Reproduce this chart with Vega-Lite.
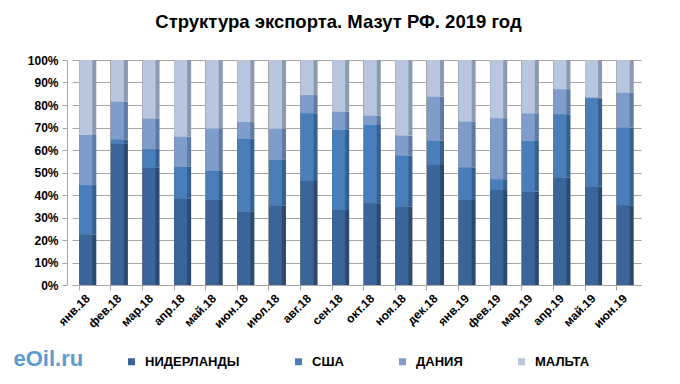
{
  "$schema": "https://vega.github.io/schema/vega-lite/v6.json",
  "width": 569,
  "height": 225,
  "autosize": "none",
  "padding": {"left": 72, "top": 60, "right": 39, "bottom": 99},
  "background": "#ffffff",
  "title": {
    "text": "Структура экспорта. Мазут РФ. 2019 год",
    "font": "Liberation Sans",
    "fontSize": 18.5,
    "fontWeight": "bold",
    "color": "#000000",
    "anchor": "middle",
    "dx": -18,
    "offset": 23
  },
  "config": {
    "view": {"stroke": null},
    "font": "Liberation Sans"
  },
  "data": {
    "values": [
      {"m": "янв.18", "c": "НИДЕРЛАНДЫ", "k": 1, "v": 22.5}, {"m": "янв.18", "c": "США", "k": 2, "v": 21.9}, {"m": "янв.18", "c": "ДАНИЯ", "k": 3, "v": 22.3}, {"m": "янв.18", "c": "МАЛЬТА", "k": 4, "v": 33.3},
      {"m": "фев.18", "c": "НИДЕРЛАНДЫ", "k": 1, "v": 62.7}, {"m": "фев.18", "c": "США", "k": 2, "v": 2.0}, {"m": "фев.18", "c": "ДАНИЯ", "k": 3, "v": 16.8}, {"m": "фев.18", "c": "МАЛЬТА", "k": 4, "v": 18.5},
      {"m": "мар.18", "c": "НИДЕРЛАНДЫ", "k": 1, "v": 52.1}, {"m": "мар.18", "c": "США", "k": 2, "v": 8.3}, {"m": "мар.18", "c": "ДАНИЯ", "k": 3, "v": 13.6}, {"m": "мар.18", "c": "МАЛЬТА", "k": 4, "v": 26.0},
      {"m": "апр.18", "c": "НИДЕРЛАНДЫ", "k": 1, "v": 38.4}, {"m": "апр.18", "c": "США", "k": 2, "v": 14.2}, {"m": "апр.18", "c": "ДАНИЯ", "k": 3, "v": 13.3}, {"m": "апр.18", "c": "МАЛЬТА", "k": 4, "v": 34.1},
      {"m": "май.18", "c": "НИДЕРЛАНДЫ", "k": 1, "v": 37.8}, {"m": "май.18", "c": "США", "k": 2, "v": 12.9}, {"m": "май.18", "c": "ДАНИЯ", "k": 3, "v": 18.9}, {"m": "май.18", "c": "МАЛЬТА", "k": 4, "v": 30.4},
      {"m": "июн.18", "c": "НИДЕРЛАНДЫ", "k": 1, "v": 32.6}, {"m": "июн.18", "c": "США", "k": 2, "v": 32.4}, {"m": "июн.18", "c": "ДАНИЯ", "k": 3, "v": 7.4}, {"m": "июн.18", "c": "МАЛЬТА", "k": 4, "v": 27.6},
      {"m": "июл.18", "c": "НИДЕРЛАНДЫ", "k": 1, "v": 35.3}, {"m": "июл.18", "c": "США", "k": 2, "v": 20.3}, {"m": "июл.18", "c": "ДАНИЯ", "k": 3, "v": 13.9}, {"m": "июл.18", "c": "МАЛЬТА", "k": 4, "v": 30.5},
      {"m": "авг.18", "c": "НИДЕРЛАНДЫ", "k": 1, "v": 46.2}, {"m": "авг.18", "c": "США", "k": 2, "v": 30.1}, {"m": "авг.18", "c": "ДАНИЯ", "k": 3, "v": 8.1}, {"m": "авг.18", "c": "МАЛЬТА", "k": 4, "v": 15.6},
      {"m": "сен.18", "c": "НИДЕРЛАНДЫ", "k": 1, "v": 33.3}, {"m": "сен.18", "c": "США", "k": 2, "v": 35.6}, {"m": "сен.18", "c": "ДАНИЯ", "k": 3, "v": 8.1}, {"m": "сен.18", "c": "МАЛЬТА", "k": 4, "v": 23.0},
      {"m": "окт.18", "c": "НИДЕРЛАНДЫ", "k": 1, "v": 36.3}, {"m": "окт.18", "c": "США", "k": 2, "v": 34.8}, {"m": "окт.18", "c": "ДАНИЯ", "k": 3, "v": 4.2}, {"m": "окт.18", "c": "МАЛЬТА", "k": 4, "v": 24.7},
      {"m": "ноя.18", "c": "НИДЕРЛАНДЫ", "k": 1, "v": 34.8}, {"m": "ноя.18", "c": "США", "k": 2, "v": 22.8}, {"m": "ноя.18", "c": "ДАНИЯ", "k": 3, "v": 8.8}, {"m": "ноя.18", "c": "МАЛЬТА", "k": 4, "v": 33.6},
      {"m": "дек.18", "c": "НИДЕРЛАНДЫ", "k": 1, "v": 53.3}, {"m": "дек.18", "c": "США", "k": 2, "v": 10.8}, {"m": "дек.18", "c": "ДАНИЯ", "k": 3, "v": 19.6}, {"m": "дек.18", "c": "МАЛЬТА", "k": 4, "v": 16.3},
      {"m": "янв.19", "c": "НИДЕРЛАНДЫ", "k": 1, "v": 37.8}, {"m": "янв.19", "c": "США", "k": 2, "v": 14.5}, {"m": "янв.19", "c": "ДАНИЯ", "k": 3, "v": 20.3}, {"m": "янв.19", "c": "МАЛЬТА", "k": 4, "v": 27.4},
      {"m": "фев.19", "c": "НИДЕРЛАНДЫ", "k": 1, "v": 42.2}, {"m": "фев.19", "c": "США", "k": 2, "v": 4.8}, {"m": "фев.19", "c": "ДАНИЯ", "k": 3, "v": 27.1}, {"m": "фев.19", "c": "МАЛЬТА", "k": 4, "v": 25.9},
      {"m": "мар.19", "c": "НИДЕРЛАНДЫ", "k": 1, "v": 41.5}, {"m": "мар.19", "c": "США", "k": 2, "v": 22.5}, {"m": "мар.19", "c": "ДАНИЯ", "k": 3, "v": 12.3}, {"m": "мар.19", "c": "МАЛЬТА", "k": 4, "v": 23.7},
      {"m": "апр.19", "c": "НИДЕРЛАНДЫ", "k": 1, "v": 47.7}, {"m": "апр.19", "c": "США", "k": 2, "v": 28.2}, {"m": "апр.19", "c": "ДАНИЯ", "k": 3, "v": 11.1}, {"m": "апр.19", "c": "МАЛЬТА", "k": 4, "v": 13.0},
      {"m": "май.19", "c": "НИДЕРЛАНДЫ", "k": 1, "v": 43.7}, {"m": "май.19", "c": "США", "k": 2, "v": 39.3}, {"m": "май.19", "c": "ДАНИЯ", "k": 3, "v": 0.4}, {"m": "май.19", "c": "МАЛЬТА", "k": 4, "v": 16.6},
      {"m": "июн.19", "c": "НИДЕРЛАНДЫ", "k": 1, "v": 35.4}, {"m": "июн.19", "c": "США", "k": 2, "v": 34.6}, {"m": "июн.19", "c": "ДАНИЯ", "k": 3, "v": 15.5}, {"m": "июн.19", "c": "МАЛЬТА", "k": 4, "v": 14.5}
    ]
  },
  "encoding": {
    "x": {
      "field": "m",
      "type": "nominal",
      "sort": ["янв.18", "фев.18", "мар.18", "апр.18", "май.18", "июн.18", "июл.18", "авг.18", "сен.18", "окт.18", "ноя.18", "дек.18", "янв.19", "фев.19", "мар.19", "апр.19", "май.19", "июн.19"],
      "scale": {"paddingInner": 0.46, "paddingOuter": 0.23},
      "axis": {
        "title": "eOil.ru",
        "titleFont": "Liberation Sans",
        "titleFontSize": 22,
        "titleFontWeight": "bold",
        "titleColor": "#5B9BD5",
        "titleX": -59,
        "titleY": 80,
        "titleAlign": "left",
        "titleBaseline": "alphabetic",
        "labelAngle": -45,
        "labelAlign": "right",
        "labelBaseline": "middle",
        "labelFont": "Liberation Sans",
        "labelFontSize": 12,
        "labelFontWeight": "bold",
        "labelColor": "#000000",
        "labelPadding": 6,
        "labelOverlap": false,
        "bandPosition": 0,
        "grid": true,
        "gridColor": "#a6a6a6",
        "domainColor": "#a6a6a6",
        "tickColor": "#a6a6a6",
        "tickSize": 5
      }
    },
    "y": {
      "field": "v",
      "type": "quantitative",
      "stack": "normalize",
      "scale": {"domain": [0, 1]},
      "axis": {
        "title": null,
        "format": ".0%",
        "values": [0, 0.1, 0.2, 0.3, 0.4, 0.5, 0.6, 0.7, 0.8, 0.9, 1],
        "labelOverlap": false,
        "offset": 5,
        "labelFont": "Liberation Sans",
        "labelFontSize": 12,
        "labelFontWeight": "bold",
        "labelColor": "#000000",
        "labelPadding": 4,
        "gridColor": "#a6a6a6",
        "domainColor": "#a6a6a6",
        "tickColor": "#a6a6a6",
        "tickSize": 5
      }
    },
    "order": {"field": "k", "type": "quantitative"}
  },
  "layer": [
    {
      "mark": {"type": "bar", "width": 17},
      "encoding": {
        "color": {
          "field": "c",
          "type": "nominal",
          "scale": {
            "domain": ["НИДЕРЛАНДЫ", "США", "ДАНИЯ", "МАЛЬТА"],
            "range": ["#2b4a72", "#36608f", "#5f7aa3", "#8c99b0"]
          },
          "legend": null
        }
      }
    },
    {
      "mark": {"type": "bar", "width": 13, "xOffset": -2},
      "encoding": {
        "color": {
          "field": "c",
          "type": "nominal",
          "scale": {
            "domain": ["НИДЕРЛАНДЫ", "США", "ДАНИЯ", "МАЛЬТА"],
            "range": ["#3b6598", "#4a7ebb", "#7e9dcb", "#b8c6e0"]
          },
          "legend": {
            "title": null,
            "orient": "none",
            "direction": "horizontal",
            "legendX": 53,
            "legendY": 295,
            "padding": 0,
            "symbolType": "square",
            "symbolSize": 49,
            "symbolStrokeWidth": 0,
            "labelFont": "Liberation Sans",
            "labelFontSize": 13,
            "labelFontWeight": "bold",
            "labelColor": "#000000",
            "labelOffset": 7,
            "columnPadding": 52
          }
        }
      }
    }
  ],
  "resolve": {"scale": {"color": "independent"}}
}
